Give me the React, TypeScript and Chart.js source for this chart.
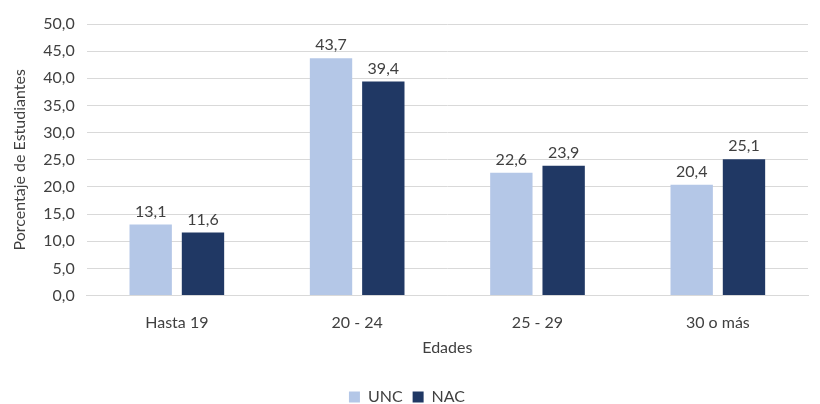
import React, { useEffect, useRef } from "react";
import { Chart, registerables } from "chart.js";

Chart.register(...registerables);

const categories = ["Hasta 19", "20 - 24", "25 - 29", "30 o más"];
const uncValues = [13.1, 43.7, 22.6, 20.4];
const nacValues = [11.6, 39.4, 23.9, 25.1];
const seriesNames = ["UNC", "NAC"];
const colors = ["#B4C7E7", "#203864"];

const fmt = (v: number) => v.toFixed(1).replace(".", ",");

const FONT = "Lato, 'Open Sans', sans-serif";
const FS = 16;

const valueLabels = {
  id: "valueLabels",
  afterDatasetsDraw(chart: any) {
    const ctx = chart.ctx;
    ctx.save();
    ctx.font = `${FS}px ${FONT}`;
    ctx.fillStyle = "#404040";
    ctx.textAlign = "center";
    ctx.textBaseline = "bottom";
    chart.data.datasets.forEach((ds: any, i: number) => {
      const meta = chart.getDatasetMeta(i);
      meta.data.forEach((bar: any, j: number) => {
        ctx.fillText(fmt(ds.data[j]), bar.x, bar.y - 5);
      });
    });
    ctx.restore();
  },
};

export default function App() {
  const ref = useRef<HTMLCanvasElement | null>(null);
  useEffect(() => {
    document.body.style.margin = "0";
    if (!ref.current) return;
    const chart = new Chart(ref.current, {
      type: "bar",
      data: {
        labels: categories,
        datasets: [
          { label: seriesNames[0], data: uncValues, backgroundColor: colors[0] },
          { label: seriesNames[1], data: nacValues, backgroundColor: colors[1] },
        ],
      },
      options: {
        responsive: false,
        animation: false,
        maintainAspectRatio: false,
        layout: { padding: { top: 24, right: 12, left: 6, bottom: -11 } },
        datasets: {
          bar: { categoryPercentage: 0.58, barPercentage: 0.81 },
        },
        plugins: {
          legend: {
            position: "bottom",
            labels: {
              boxWidth: 11,
              boxHeight: 11,
              padding: 10,
              color: "#404040",
              font: { family: FONT, size: FS },
            },
          },
          tooltip: { enabled: false },
        },
        scales: {
          x: {
            grid: { display: false },
            border: { display: true, color: "#d9d9d9" },
            ticks: { color: "#404040", font: { family: FONT, size: FS }, padding: 10 },
            title: {
              display: true,
              text: "Edades",
              color: "#404040",
              font: { family: FONT, size: FS },
              padding: { top: -5, bottom: 22 },
            },
          },
          y: {
            min: 0,
            max: 50,
            ticks: {
              stepSize: 5,
              color: "#404040",
              font: { family: FONT, size: FS },
              padding: 12,
              callback: (v: any) => fmt(Number(v)),
            },
            grid: { color: "#d9d9d9", drawTicks: false },
            border: { display: false },
            title: {
              display: true,
              text: "Porcentaje de Estudiantes",
              color: "#404040",
              font: { family: FONT, size: FS },
              padding: { bottom: 2 },
            },
          },
        },
      },
      plugins: [valueLabels],
    });
    return () => chart.destroy();
  }, []);
  return <canvas ref={ref} width={820} height={404} style={{ display: "block" }} />;
}
